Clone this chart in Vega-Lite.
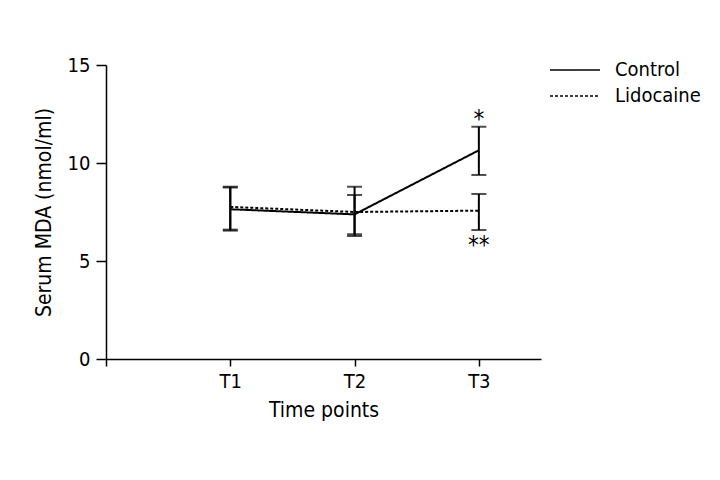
{
  "$schema": "https://vega.github.io/schema/vega-lite/v6.json",
  "width": 435,
  "height": 294,
  "autosize": "none",
  "padding": {"left": 106, "top": 65, "right": 179, "bottom": 121},
  "background": "white",
  "config": {
    "font": "DejaVu Sans Condensed, Open Sans",
    "view": {"stroke": null},
    "axis": {"grid": false, "domainColor": "black", "tickColor": "black", "labelColor": "black", "titleColor": "black", "domainWidth": 1.5, "tickWidth": 1.5, "labelFontSize": 20, "titleFontSize": 21, "titleFontWeight": "normal", "labelFont": "DejaVu Sans Condensed, Open Sans", "titleFont": "DejaVu Sans Condensed, Open Sans"}
  },
  "datasets": {
    "means": [
      {"group": "Control", "time": 1, "mean": 7.64},
      {"group": "Control", "time": 2, "mean": 7.38},
      {"group": "Control", "time": 3, "mean": 10.65},
      {"group": "Lidocaine", "time": 1, "mean": 7.76},
      {"group": "Lidocaine", "time": 2, "mean": 7.5},
      {"group": "Lidocaine", "time": 3, "mean": 7.57}
    ],
    "errors": [
      {"group": "Control", "time": 1, "lo": 6.55, "hi": 8.79},
      {"group": "Control", "time": 2, "lo": 6.36, "hi": 8.37},
      {"group": "Control", "time": 3, "lo": 9.39, "hi": 11.85},
      {"group": "Lidocaine", "time": 1, "lo": 6.6, "hi": 8.75},
      {"group": "Lidocaine", "time": 2, "lo": 6.28, "hi": 8.79},
      {"group": "Lidocaine", "time": 3, "lo": 6.58, "hi": 8.42}
    ],
    "marks": [
      {"label": "*", "time": 3, "y": 12.2},
      {"label": "**", "time": 3, "y": 5.75}
    ]
  },
  "layer": [
    {
      "data": {"name": "means"},
      "mark": {"type": "line", "color": "black", "strokeWidth": 2},
      "encoding": {
        "x": {"field": "time", "type": "quantitative", "scale": {"domain": [0, 3.5], "nice": false, "zero": false},
              "axis": {"values": [0, 1, 2, 3], "labelExpr": "datum.value == 0 ? '' : 'T' + datum.value", "tickSize": 7, "labelPadding": 5, "title": "Time points", "titlePadding": 8, "domainCap": "butt"}},
        "y": {"field": "mean", "type": "quantitative", "scale": {"domain": [0, 15], "nice": false},
              "axis": {"values": [0, 5, 10, 15], "tickSize": 10, "labelPadding": 6, "title": "Serum MDA (nmol/ml)", "titlePadding": 13}},
        "strokeDash": {"field": "group", "type": "nominal",
                        "scale": {"domain": ["Control", "Lidocaine"], "range": [[1, 0], [3, 2]]},
                        "legend": {"title": null, "orient": "none", "legendX": 453, "legendY": -11, "symbolType": "M-1.667,0H1.667", "symbolSize": 900, "symbolStrokeWidth": 1.5, "symbolStrokeColor": "black", "symbolFillColor": "transparent", "labelFontSize": 20, "labelFont": "DejaVu Sans Condensed, Open Sans", "labelColor": "black", "labelOffset": 24, "rowPadding": -1}}
      }
    },
    {
      "data": {"name": "errors"},
      "mark": {"type": "errorbar", "color": "black", "thickness": 2, "ticks": {"size": 15, "thickness": 2, "color": "black"}},
      "encoding": {
        "x": {"field": "time", "type": "quantitative"},
        "y": {"field": "lo", "type": "quantitative", "title": "Serum MDA (nmol/ml)"},
        "y2": {"field": "hi"},
        "detail": {"field": "group"}
      }
    },
    {
      "data": {"name": "marks"},
      "mark": {"type": "text", "fontSize": 24, "font": "DejaVu Sans Condensed, Open Sans", "color": "black", "baseline": "middle"},
      "encoding": {
        "x": {"field": "time", "type": "quantitative"},
        "y": {"field": "y", "type": "quantitative", "title": "Serum MDA (nmol/ml)"},
        "text": {"field": "label"}
      }
    }
  ]
}
